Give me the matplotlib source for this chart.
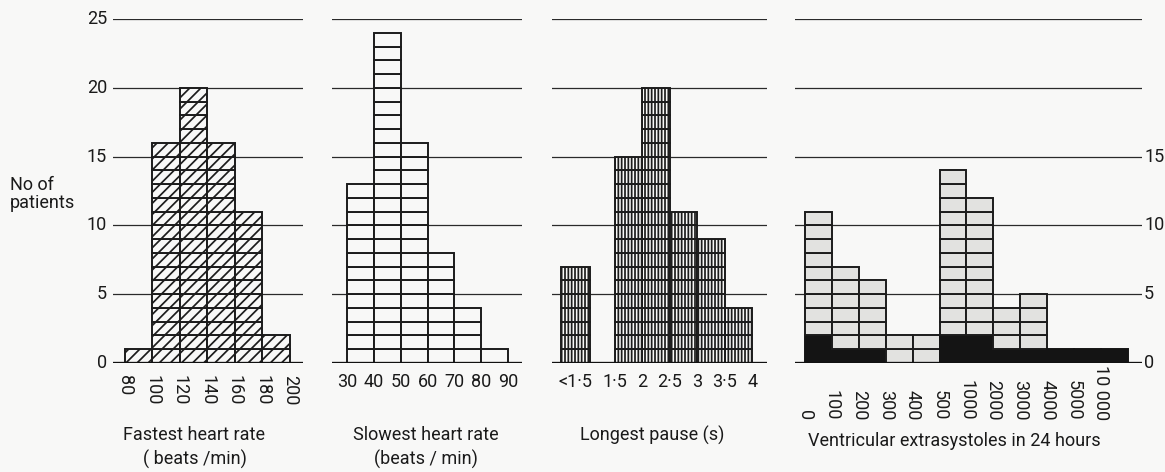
import matplotlib
matplotlib.use('Agg')
import matplotlib.pyplot as plt
from matplotlib.transforms import blended_transform_factory as blend

# ---------------- data ----------------
fast_edges = [80, 100, 120, 140, 160, 180, 200]
fast_counts = [1, 16, 20, 16, 11, 2]

slow_edges = [30, 40, 50, 60, 70, 80, 90]
slow_counts = [13, 24, 16, 8, 4, 1]

pause_labels = ['<1·5', '1·5', '2', '2·5', '3', '3·5', '4']
pause_edges = [1.5, 2.0, 2.5, 3.0, 3.5, 4.0]
pause_short_count = 7            # "<1.5 s" bar
pause_counts = [15, 20, 11, 9, 4]

ve_labels = ['0', '100', '200', '300', '400', '500', '1000', '2000',
             '3000', '4000', '5000', '10 000']
ve_total = [11, 7, 6, 2, 2, 14, 12, 4, 5, 1, 1, 1]
ve_black = [2, 1, 1, 0, 0, 2, 2, 1, 1, 1, 1, 1]

yticks = [0, 5, 10, 15, 20, 25]
yticks_right = [0, 5, 10, 15]

# ---------------- style ----------------
FONT = 'Roboto'
FS = 13
plt.rcParams['font.family'] = FONT
plt.rcParams['hatch.linewidth'] = 1.25

W, H = 1165, 472
fig = plt.figure(figsize=(W / 100, H / 100), dpi=100)
BG = '#f8f8f7'
fig.patch.set_facecolor(BG)
TXT = '#1a1a1a'

Y0, Y1 = 363, 19   # pixel rows of 0 and 25


def fy(ypx):
    return 1 - ypx / H


def fx(xpx):
    return xpx / W


def make_axes(x0, x1, xlim):
    ax = fig.add_axes([fx(x0), fy(Y0), (x1 - x0) / W, (Y0 - Y1) / H])
    ax.set_xlim(*xlim)
    ax.set_ylim(0, 25)
    ax.axis('off')
    for y in yticks[1:]:
        ax.axhline(y, color='#2a2a2a', lw=0.9, zorder=1)
    ax.axhline(0, color='#111111', lw=2.4, zorder=6)
    return ax


def draw_units(ax, left, width, start, stop, face, hatch=None):
    for k in range(start, stop):
        ax.bar(left, 1, width=width, bottom=k, align='edge', facecolor=face,
               edgecolor='#1c1c1c', linewidth=1.4, hatch=hatch, zorder=3)


# ---------- panel 1: fastest heart rate ----------
ax1 = make_axes(113, 303, (71.3, 209.5))
for i, c in enumerate(fast_counts):
    draw_units(ax1, fast_edges[i], fast_edges[i + 1] - fast_edges[i], 0, c, BG, '///')
t1 = blend(ax1.transData, fig.transFigure)
for e in fast_edges:
    ax1.text(e, fy(375), str(e), transform=t1, rotation=270, ha='center', va='top',
             fontsize=FS, color=TXT)
ty = blend(fig.transFigure, ax1.transData)
for y in yticks:
    fig.text(fx(107), y, str(y), transform=ty, ha='right', va='center', fontsize=FS,
             color=TXT)
fig.text(fx(10), fy(194), 'No of\npatients', ha='left', va='center', fontsize=FS,
         linespacing=1.0, color=TXT)
fig.text(fx(194), fy(435), 'Fastest heart rate', ha='center', va='center',
         fontsize=FS, color=TXT)
fig.text(fx(195), fy(459), '( beats /min)', ha='center', va='center', fontsize=FS,
         color=TXT)

# ---------- panel 2: slowest heart rate ----------
ax2 = make_axes(332, 522, (24.4, 95.2))
for i, c in enumerate(slow_counts):
    draw_units(ax2, slow_edges[i], slow_edges[i + 1] - slow_edges[i], 0, c, BG)
t2 = blend(ax2.transData, fig.transFigure)
for e in slow_edges:
    ax2.text(e, fy(382), str(e), transform=t2, ha='center', va='center', fontsize=FS,
             color=TXT)
fig.text(fx(426), fy(435), 'Slowest heart rate', ha='center', va='center',
         fontsize=FS, color=TXT)
fig.text(fx(426), fy(459), '(beats / min)', ha='center', va='center', fontsize=FS,
         color=TXT)

# ---------- panel 3: longest pause ----------
ax3 = make_axes(552, 767, (0.35, 4.27))
short_left, short_w = 0.52, 0.53
draw_units(ax3, short_left, short_w, 0, pause_short_count, BG, '|||||')
for i, c in enumerate(pause_counts):
    draw_units(ax3, pause_edges[i], pause_edges[i + 1] - pause_edges[i], 0, c, BG,
               '|||||')
t3 = blend(ax3.transData, fig.transFigure)
pause_pos = [short_left + short_w / 2] + pause_edges
for p, lab in zip(pause_pos, pause_labels):
    ax3.text(p, fy(382), lab, transform=t3, ha='center', va='center', fontsize=FS,
             color=TXT)
fig.text(fx(652), fy(435), 'Longest pause (s)', ha='center', va='center',
         fontsize=FS, color=TXT)

# ---------- panel 4: ventricular extrasystoles ----------
ax4 = make_axes(795, 1142, (-10 / 26.9, 337 / 26.9))
for i, (tot, blk) in enumerate(zip(ve_total, ve_black)):
    if blk:
        ax4.bar(i, blk, width=1, align='edge', facecolor='#141414',
                edgecolor='#141414', linewidth=1.4, zorder=3)
    draw_units(ax4, i, 1, blk, tot, '#e2e2e0')
t4 = blend(ax4.transData, fig.transFigure)
for i, lab in enumerate(ve_labels):
    ax4.text(i, fy(420), lab, transform=t4, rotation=270, ha='center', va='bottom',
             fontsize=FS, color=TXT)
ty4 = blend(fig.transFigure, ax4.transData)
for y in yticks_right:
    fig.text(fx(1144), y, str(y), transform=ty4, ha='left', va='center', fontsize=FS,
             color=TXT)
fig.text(fx(954), fy(441), 'Ventricular extrasystoles in 24 hours', ha='center',
         va='center', fontsize=FS, color=TXT)

fig.savefig('out.png', dpi=100, facecolor=fig.get_facecolor())
